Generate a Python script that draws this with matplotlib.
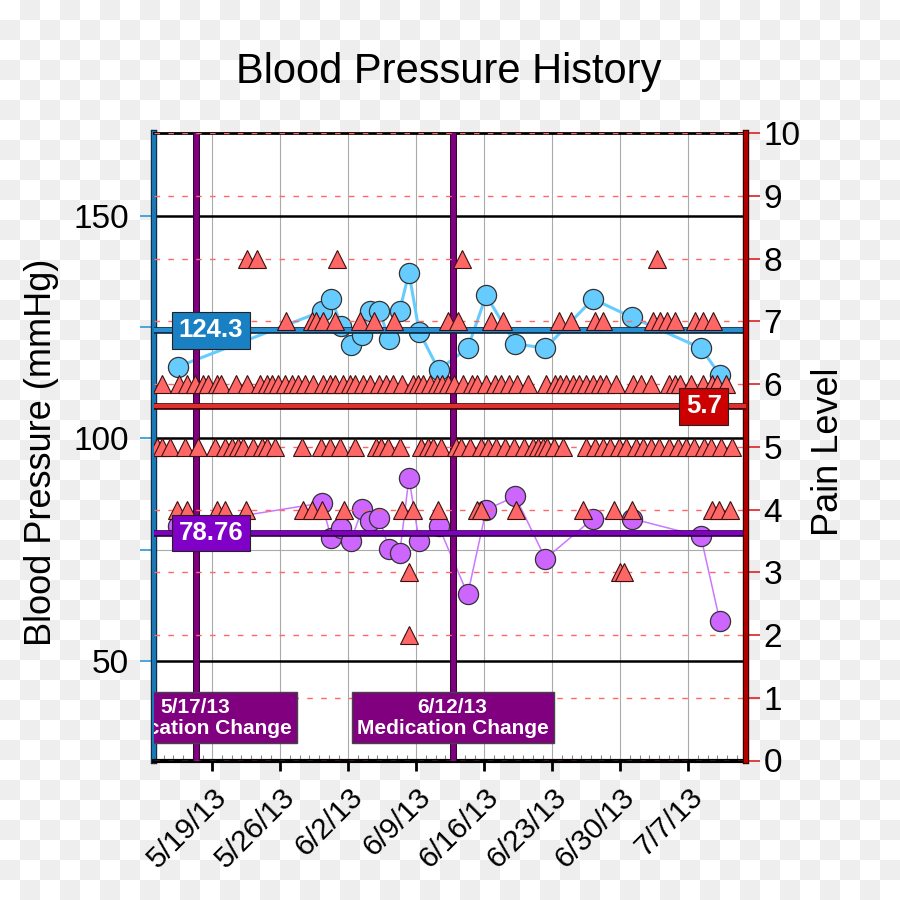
import numpy as np
import matplotlib
matplotlib.use("Agg")
import matplotlib.pyplot as plt
import matplotlib.patheffects as pe
from matplotlib.colors import ListedColormap
from matplotlib.ticker import MultipleLocator

plt.rcParams['font.family'] = ['Liberation Sans', 'DejaVu Sans']

# x values are days counted from 5/19/13
bp_days = [-3.55, 11.25, 12.25, 13.3, 14.25, 15.45, 16.2, 17.2, 18.2, 19.3, 20.25,
           21.3, 23.3, 26.3, 28.2, 31.2, 34.3, 39.2, 43.2, 50.3, 52.25]
systolic = [116.1, 128.5, 131.3, 125.3, 121.0, 123.3, 128.5, 128.6, 122.3, 128.7, 137.2,
            124.0, 115.4, 120.3, 132.1, 121.2, 120.3, 131.3, 127.2, 120.3, 114.3]
diastolic = [80.3, 85.5, 77.7, 79.9, 76.9, 84.2, 81.4, 82.1, 75.2, 74.3, 91.1,
             76.9, 80.3, 65.0, 84.0, 87.0, 73.0, 82.0, 82.0, 78.0, 59.1]

# pain readings, one list of days per pain level
pain8 = [3.54, 4.57, 12.8, 25.67, 45.75]
pain7 = [7.59, 10.23, 10.64, 11.36, 12.63, 15.2, 16.64, 18.74, 24.3, 25.3, 28.66, 29.9,
         35.7, 36.9, 39.4, 40.25, 45.4, 46.1, 46.8, 47.6, 49.7, 50.5, 51.6]
pain6 = [-5.2, -3.39, -2.57, -1.78, -0.92, -0.41, 0.45, 0.86, 2.44, 3.6, 4.9, 5.6, 6.1,
         6.8, 7.5, 8.2, 8.8, 9.5, 10.4, 11.4, 12.1, 12.6, 13.5, 14.2, 14.7, 15.5, 16.2,
         17.2, 17.9, 18.6, 19.5, 20.7, 21.2, 21.7, 22.4, 23.1, 23.7, 24.3, 24.9, 25.8,
         26.7, 27.3, 28.2, 29.1, 29.7, 30.6, 31.4, 32.5, 34.4, 35.3, 35.8, 36.4, 37.1,
         37.8, 38.5, 39.2, 39.9, 40.5, 41.6, 43.3, 44.1, 45.2, 47.0, 47.6, 48.2, 49.3,
         50.5, 51.5, 52.0, 52.9]
pain5 = [-5.7, -5.2, -4.35, -2.8, -1.44, 0.28, 1.3, 2.0, 2.67, 3.19, 4.2, 5.1, 5.6, 6.45,
         9.2, 11.2, 12.1, 13.2, 14.7, 16.9, 17.4, 18.1, 19.3, 21.5, 22.2, 22.7, 23.6,
         25.1, 25.6, 26.5, 27.7, 28.4, 29.2, 30.1, 31.1, 32.1, 33.0, 33.5, 34.0, 34.5,
         35.2, 36.1, 38.5, 39.4, 40.2, 41.0, 41.9, 42.6, 43.6, 44.3, 45.2, 46.0, 47.0,
         47.9, 48.8, 49.6, 50.6, 51.3, 52.4, 53.5]
pain4 = [-3.66, -2.57, 0.45, 1.3, 3.43, 9.37, 10.23, 11.26, 13.6, 19.5, 20.7, 23.2,
         27.3, 27.7, 31.3, 38.2, 41.4, 43.2, 51.5, 52.2, 53.3]
pain3 = [20.3, 42.0, 42.4]
pain2 = [20.25]

week_ticks = [0, 7, 14, 21, 28, 35, 42, 49]
week_labels = ["5/19/13", "5/26/13", "6/2/13", "6/9/13", "6/16/13", "6/23/13",
               "6/30/13", "7/7/13"]

med_days = [-1.7, 24.75]
med_labels = ["5/17/13\nMedication Change", "6/12/13\nMedication Change"]

sys_mean = 124.3
dia_mean = 78.76
pain_mean = 5.65

fig = plt.figure(figsize=(9, 9), dpi=100)

# checkered backdrop
bg = fig.add_axes([0, 0, 1, 1], zorder=-10)
cells = np.add.outer(np.arange(45), np.arange(45)) % 2
bg.imshow(cells, cmap=ListedColormap(['white', '#eeeeee']), interpolation='nearest', aspect='auto')
bg.axis('off')

ax = fig.add_axes([154 / 900, 1 - 760.5 / 900, 591.5 / 900, 627.2 / 900])
ax.set_facecolor('white')
ax2 = ax.twinx()

ax.set_xlim(-6.0, 54.9)
ax.set_ylim(27.7, 168.5)
ax2.set_ylim(0, 10)

# grids
ax.yaxis.set_major_locator(MultipleLocator(50))
ax.yaxis.set_minor_locator(MultipleLocator(25))
ax.set_xticks(week_ticks, week_labels)
ax.xaxis.set_minor_locator(MultipleLocator(1))
ax.set_axisbelow(True)
ax.grid(which='major', axis='y', color='black', lw=1.8)
ax.grid(which='minor', axis='y', color='#aaaaaa', lw=0.8)
ax.grid(which='major', axis='x', color='#aaaaaa', lw=0.8)

ax2.set_yticks(range(11))
ax2.grid(axis='y', color='#ff6666', lw=1, linestyle=(0, (4, 6)))

# ticks
ax.tick_params(axis='y', which='both', direction='out', length=10, width=1.3,
               color='#3aa0d8', labelsize=24, pad=8)
ax.tick_params(axis='x', which='major', direction='out', length=7, width=2,
               color='black', labelsize=21.5, pad=9)
ax.tick_params(axis='x', which='minor', direction='in', length=4, width=0.8, color='#888888')
for lab in ax.get_xticklabels():
    lab.set_rotation(45)
    lab.set_ha('right')
    lab.set_rotation_mode('anchor')
ax2.tick_params(axis='y', direction='out', length=10, width=1.3, color='#e03030',
                labelsize=24, pad=3)

# spines
for s in ['left', 'top', 'bottom']:
    ax2.spines[s].set_visible(False)
ax.spines['right'].set_visible(False)
ax.spines['left'].set_color('#1a78b4')
ax.spines['left'].set_linewidth(3)
ax.spines['left'].set_path_effects([pe.Stroke(linewidth=4.6, foreground='#0b2a40'), pe.Normal()])
ax.spines['top'].set_linewidth(2)
ax.spines['bottom'].set_linewidth(3)
ax2.spines['right'].set_color('#b00000')
ax2.spines['right'].set_linewidth(3)
ax2.spines['right'].set_path_effects([pe.Stroke(linewidth=4.6, foreground='#300000'), pe.Normal()])

# blood pressure
ax.plot(bp_days, systolic, '-o', color='#66ccff', lw=2.2, ms=14.5,
        mfc='#66ccff', mec='#333333', mew=0.9, zorder=2)
ax.plot(bp_days, diastolic, '-o', color='#cc77ff', lw=1.1, ms=14.5,
        mfc='#cc66ff', mec='#333333', mew=0.9, zorder=2)

ax.axhline(sys_mean, color='#2a8fd0', lw=3, zorder=4,
           path_effects=[pe.Stroke(linewidth=4.8, foreground='#0b2a40'), pe.Normal()])
ax.axhline(dia_mean, color='#8000c0', lw=3, zorder=4,
           path_effects=[pe.Stroke(linewidth=4.8, foreground='#2a0040'), pe.Normal()])

for d in med_days:
    ax.axvline(d, color='#800080', lw=3.5, zorder=3,
               path_effects=[pe.Stroke(linewidth=5, foreground='#300030'), pe.Normal()])

# pain level
for lvl, days in [(2, pain2), (3, pain3), (4, pain4), (5, pain5), (6, pain6), (7, pain7), (8, pain8)]:
    ax2.plot(days, [lvl] * len(days), '^', ms=13, mfc='#ff6666', mec='#3a1010',
             mew=0.8, ls='none', zorder=3)

ax2.axhline(pain_mean, color='#dd3030', lw=3, zorder=4,
            path_effects=[pe.Stroke(linewidth=4.8, foreground='#400000'), pe.Normal()])

# value boxes
box_kw = dict(ha='center', va='center', fontsize=18.5, fontweight='bold', color='white', zorder=6)
ax2.text(-0.13, sys_mean, "124.3", transform=ax.transData,
         bbox=dict(boxstyle='square,pad=0.25', fc='#1a80c4', ec='#222222', lw=0.8), **box_kw)
ax2.text(-0.13, dia_mean, "78.76", transform=ax.transData,
         bbox=dict(boxstyle='square,pad=0.25', fc='#8000c8', ec='#222222', lw=0.8), **box_kw)
ax2.text(50.6, pain_mean, "5.7",
         bbox=dict(boxstyle='square,pad=0.25', fc='#cc0000', ec='#222222', lw=0.8), **box_kw)

for d, txt in zip(med_days, med_labels):
    ax2.text(d, 37.3, txt, transform=ax.transData, ha='center', va='center', fontsize=15,
             fontweight='bold', color='white', linespacing=1.15, clip_on=True, zorder=6,
             bbox=dict(boxstyle='square,pad=0.25', fc='#800080', ec='#444444', lw=1))

fig.text(449 / 900, 1 - 72 / 900, "Blood Pressure History", fontsize=30, ha='center', va='center')
fig.text(42 / 900, 1 - 452 / 900, "Blood Pressure (mmHg)", fontsize=26, rotation=90,
         ha='center', va='center')
fig.text(828 / 900, 1 - 452 / 900, "Pain Level", fontsize=26, rotation=90,
         ha='center', va='center')

fig.savefig('out.png', dpi=100)
